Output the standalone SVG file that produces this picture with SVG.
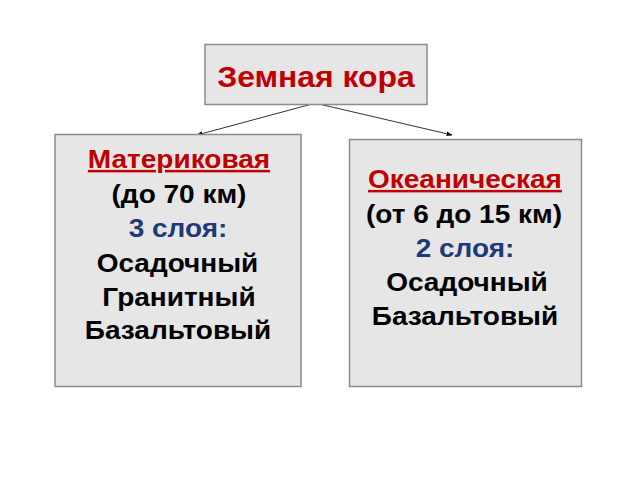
<svg xmlns="http://www.w3.org/2000/svg" width="640" height="480" viewBox="0 0 640 480">
<defs>
<marker id="ah" viewBox="0 0 10 10" refX="9" refY="5" markerWidth="6" markerHeight="6" orient="auto" markerUnits="userSpaceOnUse">
<path d="M0,1 L10,5 L0,9 Z" fill="#000"/>
</marker>
</defs>
<style>
.box{fill:#e6e6e6;stroke:#8c8c8c;stroke-width:1.5}
text{font-family:"Liberation Sans",Arial,sans-serif;font-size:25px;text-anchor:middle;fill:#000;font-weight:bold}
.red{fill:#c00000}
.blue{fill:#1f3a7a}
.u{text-decoration:underline}
.title{font-size:29px}
.conn{stroke:#333;stroke-width:1;fill:none;marker-end:url(#ah)}
</style>
<rect width="640" height="480" fill="#fff"/>
<g id="connectors">
<line class="conn" x1="312" y1="104" x2="197" y2="135"/>
<line class="conn" x1="319" y1="104" x2="452" y2="135"/>
</g>
<g id="root">
<rect class="box" x="205" y="44.5" width="222" height="60"/>
<g transform="scale(1.1,1)">
<text class="title red" x="287.27" y="87">Земная кора</text>
</g>
</g>
<g id="continental">
<rect class="box" x="55" y="134.5" width="246" height="252"/>
<g transform="scale(1.12,1)">
<text class="red u" x="159.82" y="168">Материковая</text>
<text x="159.82" y="203">(до 70 км)</text>
<text class="blue" x="158.93" y="237">3 слоя:</text>
<text x="158.48" y="272">Осадочный</text>
<text x="159.82" y="306">Гранитный</text>
<text x="158.93" y="339">Базальтовый</text>
</g>
</g>
<g id="oceanic">
<rect class="box" x="349.5" y="139.5" width="232" height="247"/>
<g transform="scale(1.12,1)">
<text class="red u" x="415.18" y="188">Океаническая</text>
<text x="414.29" y="223">(от 6 до 15 км)</text>
<text class="blue" x="415.18" y="257">2 слоя:</text>
<text x="416.96" y="291">Осадочный</text>
<text x="415.18" y="325">Базальтовый</text>
</g>
</g>
</svg>
